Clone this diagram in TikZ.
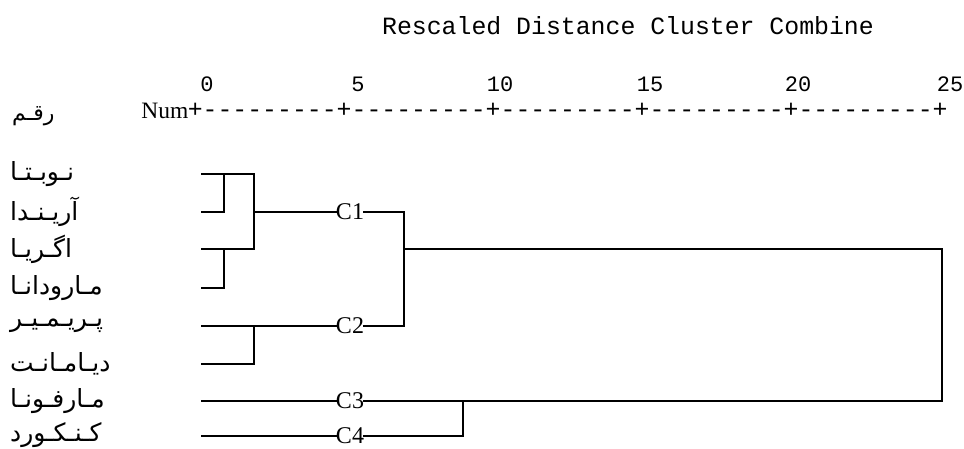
\documentclass[tikz,border=0pt]{standalone}
\usepackage{fontspec}
\setmainfont{Liberation Serif}
\setmonofont{Liberation Mono}
\newfontfamily\arabicfont[Script=Arabic]{DejaVu Sans}
\TeXXeTstate=1
\begin{document}
\begin{tikzpicture}[x=1pt,y=-1pt,
  tree/.style={line width=1.6pt,line cap=rect},
  leaf/.style={anchor=west,inner sep=0pt,font=\arabicfont\fontsize{25}{28}\selectfont},
  clab/.style={inner sep=0pt,font=\fontsize{24}{26}\selectfont},
  tick/.style={anchor=base,inner sep=0pt,font=\ttfamily\fontsize{22}{24}\selectfont}]
\useasboundingbox (0,0) rectangle (964,449);
% title and axis
\node[anchor=base,inner sep=0pt,font=\ttfamily\fontsize{24.83}{28}\selectfont] (title) at (628,35) {Rescaled Distance Cluster Combine};
\node[tick] (t0) at (207,92) {0};
\node[tick] (t5) at (358,92) {5};
\node[tick] (t10) at (500,92) {10};
\node[tick] (t15) at (650,92) {15};
\node[tick] (t20) at (798,92) {20};
\node[tick] (t25) at (950,92) {25};
\node[anchor=base east,inner sep=0pt,font=\fontsize{23.5}{26}\selectfont] (num) at (188.5,119) {Num};
\node[anchor=base west,inner sep=0pt,font=\ttfamily\fontsize{24.83}{28}\selectfont] (axis) at (187.55,118) {+---------+---------+---------+---------+---------+};
\node[leaf,font=\arabicfont\fontsize{22}{26}\selectfont] (head) at (12,116) {\beginR رقـم\endR};
% leaf labels
\node[leaf] (l1) at (10,174) {\beginR نـوبـتـا\endR};
\node[leaf] (l2) at (10,212) {\beginR آریـنـدا\endR};
\node[leaf] (l3) at (10,249) {\beginR اگـریـا\endR};
\node[leaf] (l4) at (10,288) {\beginR مـارودانـا\endR};
\node[leaf] (l5) at (10,326) {\beginR پـریـمـیـر\endR};
\node[leaf] (l6) at (10,364) {\beginR دیـامـانـت\endR};
\node[leaf] (l7) at (10,401) {\beginR مـارفـونـا\endR};
\node[leaf] (l8) at (10,435) {\beginR کـنـکـورد\endR};
% leaf line starts
\coordinate (s1) at (202,174);
\coordinate (s2) at (202,212);
\coordinate (s3) at (202,249);
\coordinate (s4) at (202,288);
\coordinate (s5) at (202,326);
\coordinate (s6) at (202,364);
\coordinate (s7) at (202,401);
\coordinate (s8) at (202,436);
% cluster labels
\node[clab] (c1) at (350,212) {C1};
\node[clab] (c2) at (350,326) {C2};
\node[clab] (c3) at (350,401) {C3};
\node[clab] (c4) at (350,436) {C4};
% joins
\coordinate (j12) at (224,174);
\coordinate (j34) at (224,249);
\coordinate (j13) at (254,174);
\coordinate (j56) at (254,326);
\coordinate (jc) at (404,212);
\coordinate (jroot) at (942,249);
\coordinate (j78) at (463,401);
% tree lines
\draw[tree] (s1) -- (j13) -- (254,249) -- (s3);
\draw[tree] (s2) -- (224,212) -- (j12);
\draw[tree] (s4) -- (224,288) -- (j34);
\draw[tree] (254,212) -- (c1.west);
\draw[tree] (c1.east) -- (jc) -- (404,326) -- (c2.east);
\draw[tree] (s5) -- (c2.west);
\draw[tree] (s6) -- (254,364) -- (j56);
\draw[tree] (404,249) -- (jroot) -- (942,401) -- (c3.east);
\draw[tree] (s7) -- (c3.west);
\draw[tree] (s8) -- (c4.west);
\draw[tree] (c4.east) -- (463,436) -- (j78);
\end{tikzpicture}
\end{document}
